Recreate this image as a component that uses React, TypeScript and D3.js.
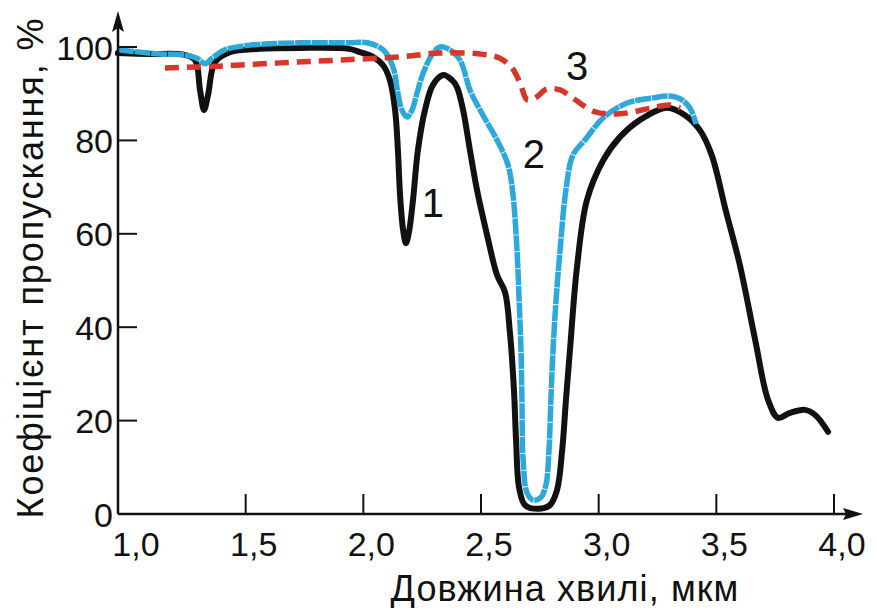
import React from "react";
import * as d3 from "d3";

// wavelength (µm), transmittance (%)
const curve1: [number, number][] = [
  [0.957, 98.7], [1.093, 98.5], [1.242, 98.3], [1.285, 97.2], [1.306, 90.8], [1.323, 86.5],
  [1.34, 89.7], [1.37, 96.8], [1.433, 98.9], [1.56, 99.6], [1.73, 99.8], [1.94, 99.6],
  [1.986, 98.9], [2.041, 97.9], [2.084, 96.1], [2.113, 92.9], [2.135, 86.5], [2.147, 77.9],
  [2.156, 68.3], [2.169, 60.8], [2.181, 58], [2.194, 60.4], [2.211, 67.2], [2.232, 77.9],
  [2.262, 86.5], [2.296, 91.9], [2.339, 94], [2.377, 92.9], [2.398, 91.4], [2.424, 86.5],
  [2.453, 77.9], [2.483, 69.4], [2.526, 59.7], [2.568, 51.2], [2.602, 47.5], [2.623, 38.8],
  [2.64, 26.6], [2.649, 15.8], [2.662, 5.6], [2.687, 1.9], [2.742, 1.1], [2.793, 1.9],
  [2.823, 5.1], [2.845, 13.7], [2.861, 24.4], [2.878, 35.1], [2.908, 52.9], [2.95, 67.2],
  [3.02, 75.8], [3.09, 80.7], [3.176, 84.4], [3.29, 87], [3.367, 85.4], [3.43, 82.2],
  [3.48, 76.9], [3.54, 65], [3.6, 53.3], [3.665, 37.3], [3.72, 24.4], [3.762, 20.6],
  [3.81, 21.6], [3.877, 22.3], [3.92, 21.2], [3.975, 17.6],
];

const curve2: [number, number][] = [
  [0.957, 99.4], [1.05, 98.9], [1.136, 98.5], [1.242, 98.3], [1.293, 97.6], [1.327, 96.4],
  [1.357, 97.6], [1.412, 99.4], [1.518, 100.4], [1.73, 100.9], [1.94, 100.9], [2.016, 100.9],
  [2.084, 99.4], [2.126, 95.7], [2.147, 90.1], [2.164, 86.5], [2.186, 85], [2.207, 86.5],
  [2.228, 90.1], [2.254, 94.4], [2.296, 98.7], [2.326, 100], [2.368, 99.4], [2.411, 97.2],
  [2.453, 90.8], [2.496, 86.5], [2.568, 80.1], [2.615, 74.7], [2.636, 68.3], [2.653, 56.5],
  [2.662, 45.8], [2.67, 35.1], [2.674, 24.4], [2.679, 11.6], [2.696, 4.5], [2.721, 3],
  [2.755, 3.6], [2.776, 6.2], [2.789, 13.7], [2.797, 24.4], [2.806, 35.1], [2.819, 45.8],
  [2.836, 56.5], [2.861, 69.4], [2.891, 76.9], [2.942, 80.1], [3.019, 84.8], [3.121, 88],
  [3.231, 89.1], [3.291, 89.5], [3.346, 88.9], [3.388, 86.9], [3.414, 83.5],
];

const curve3: [number, number][] = [
  [1.157, 95.5], [1.39, 95.9], [1.646, 96.6], [1.9, 97.2], [2.156, 97.9], [2.326, 98.7],
  [2.496, 98.5], [2.58, 97.6], [2.632, 95.5], [2.666, 92.3], [2.696, 88.7], [2.73, 89.1],
  [2.78, 91], [2.836, 90.8], [2.9, 88.7], [2.985, 86.1], [3.09, 85.7], [3.22, 86.9],
  [3.3, 87.6], [3.346, 86.9],
];

const xTicks = [1.0, 1.5, 2.0, 2.5, 3.0, 3.5, 4.0];
const xTickLabels = ["1,0", "1,5", "2,0", "2,5", "3,0", "3,5", "4,0"];
const yTicks = [0, 20, 40, 60, 80, 100];
const curveLabels: { text: string; x: number; y: number }[] = [
  { text: "1", x: 2.296, y: 63.6 },
  { text: "2", x: 2.725, y: 74.1 },
  { text: "3", x: 2.908, y: 92.9 },
];

const W = 876;
const H = 608;
const FONT = "'Liberation Sans', Arial, sans-serif";

export default function App() {
  const x = d3.scaleLinear().domain([1, 4]).range([128, 834]);
  const y = d3.scaleLinear().domain([0, 100]).range([514, 47]);
  const x0 = 118;
  const y0 = 514;

  const line = d3
    .line<[number, number]>()
    .x((d) => x(d[0]))
    .y((d) => y(d[1]))
    .curve(d3.curveCatmullRom.alpha(0.5));

  return (
    <svg
      width={W}
      height={H}
      style={{ position: "absolute", left: 0, top: 0, background: "#fff" }}
      fontFamily={FONT}
    >
      {/* curves */}
      <path d={line(curve1) || ""} fill="none" stroke="#111" strokeWidth={6} strokeLinejoin="round" strokeLinecap="round" />
      <path d={line(curve2) || ""} fill="none" stroke="#2ea8da" strokeWidth={5.5} strokeDasharray="16 0.8" strokeLinejoin="round" />
      <path d={line(curve3) || ""} fill="none" stroke="#d8362b" strokeWidth={5.5} strokeDasharray="14 8" />

      {/* axes */}
      <line x1={x0} y1={y0} x2={852} y2={y0} stroke="#111" strokeWidth={2.5} />
      <path d={`M863,${y0} L843,${y0 - 6} L846,${y0} L843,${y0 + 6} Z`} fill="#111" />
      <line x1={x0} y1={y0} x2={x0} y2={22} stroke="#111" strokeWidth={2.5} />
      <path d={`M${x0},11 L${x0 - 6},32 L${x0},28 L${x0 + 6},32 Z`} fill="#111" />

      {xTicks.map((t, i) => (
        <g key={"xt" + i}>
          {i > 0 && <line x1={x(t)} x2={x(t)} y1={y0} y2={y0 - 20} stroke="#111" strokeWidth={2} />}
          <text x={x(t) + 8} y={556} fontSize={34} textAnchor="middle" fill="#111">
            {xTickLabels[i]}
          </text>
        </g>
      ))}
      {yTicks.map((t, i) => (
        <g key={"yt" + i}>
          {t > 0 && <line x1={x0} x2={x0 + 19} y1={y(t)} y2={y(t)} stroke="#111" strokeWidth={2} />}
          <text x={113} y={y(t) + 12.5} fontSize={34} textAnchor="end" fill="#111">
            {t}
          </text>
        </g>
      ))}

      {curveLabels.map((l, i) => (
        <text key={"cl" + i} x={x(l.x)} y={y(l.y)} fontSize={40} textAnchor="middle" fill="#111">
          {l.text}
        </text>
      ))}

      <text x={565} y={601} fontSize={36} letterSpacing={1.1} textAnchor="middle" fill="#111">
        Довжина хвилі, мкм
      </text>
      <text transform="translate(43,267.5) rotate(-90)" fontSize={36} letterSpacing={1.9} textAnchor="middle" fill="#111">
        Коефіцієнт пропускання, %
      </text>
    </svg>
  );
}
